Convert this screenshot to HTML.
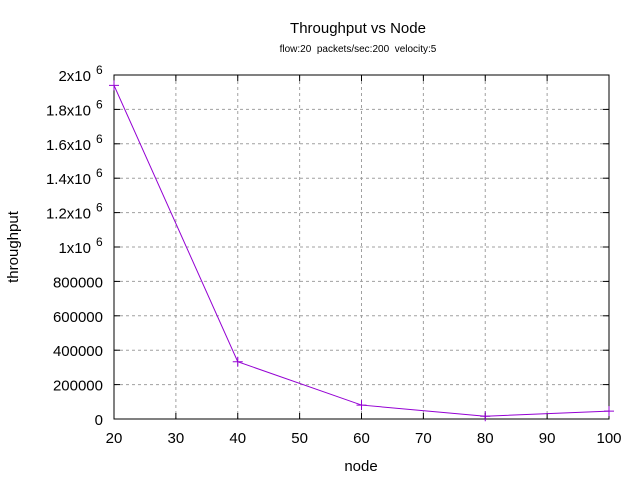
<!DOCTYPE html>
<html><head><meta charset="utf-8"><style>
body{margin:0;background:#fff;}
svg{display:block;font-family:"Liberation Sans",sans-serif;}
</style></head><body>
<svg id="chart" width="640" height="480">
<text x="358" y="33" font-size="15" text-anchor="middle">Throughput vs Node</text>
<text x="358" y="52" font-size="10" text-anchor="middle" style="white-space:pre">flow:20  packets/sec:200  velocity:5</text>
<text x="361" y="471" font-size="15" text-anchor="middle">node</text>
<text transform="translate(18,247) rotate(-90)" font-size="15" text-anchor="middle">throughput</text>
<g id="grid"></g><g id="axes"></g><g id="series"></g>
</svg>
<script>
const categories=[20,40,60,80,100];
const throughput=[1940000,333000,81000,16000,46000];
const xTicks=[20,30,40,50,60,70,80,90,100];
const yTicks=[0,200000,400000,600000,800000,1000000,1200000,1400000,1600000,1800000,2000000];
const yTickLabels=["0","200000","400000","600000","800000","1x10","1.2x10","1.4x10","1.6x10","1.8x10","2x10"];
const L=114,R=609,T=75,B=419;
const xs=v=>L+(v-20)/80*(R-L);
const ys=v=>B-v/2000000*(B-T);
const NS="http://www.w3.org/2000/svg";
function mk(tag,attrs,parent){const e=document.createElementNS(NS,tag);for(const k in attrs)e.setAttribute(k,attrs[k]);parent.appendChild(e);return e;}
const grid=document.getElementById('grid'),axes=document.getElementById('axes'),ser=document.getElementById('series');
xTicks.forEach(v=>{const x=xs(v);
 if(v>20&&v<100){const g=mk('line',{x1:x,x2:x,y1:T,y2:B,stroke:'#a0a0a0','stroke-dasharray':'3,3'},grid);
 
 }
 mk('line',{x1:x,x2:x,y1:B,y2:B-6,stroke:'#000'},axes);
 mk('line',{x1:x,x2:x,y1:T,y2:T+6,stroke:'#000'},axes);
 const t=mk('text',{x:x,y:B+24,'font-size':15,'text-anchor':'middle'},axes);t.textContent=v;
 
 
});
yTicks.forEach((v,i)=>{const y=ys(v);
 if(v>0&&v<2000000){const g=mk('line',{x1:L,x2:R,y1:y,y2:y,stroke:'#a0a0a0','stroke-dasharray':'3,3'},grid);
 
 }
 mk('line',{x1:L,x2:L+6,y1:y,y2:y,stroke:'#000'},axes);
 mk('line',{x1:R,x2:R-6,y1:y,y2:y,stroke:'#000'},axes);
 const big=v>=1000000;
 const t=mk('text',{x:big?91:103,y:y+6,'font-size':15,'text-anchor':'end'},axes);t.textContent=yTickLabels[i];
 
 
 if(big){const s=mk('text',{x:96,y:y-1,'font-size':12},axes);s.textContent='6';
 
 }
});
const fr=mk('rect',{x:L,y:T,width:R-L,height:B-T,fill:'none',stroke:'#000'},axes);


const pts=categories.map((c,i)=>xs(c)+','+ys(throughput[i])).join(' ');
const pl=mk('polyline',{points:pts,fill:'none',stroke:'#9400d3','stroke-width':1},ser);


categories.forEach((c,i)=>{const x=xs(c),y=ys(throughput[i]);
 const p=mk('path',{d:`M${x-5},${y}H${x+5}M${x},${y-5}V${y+5}`,stroke:'#9400d3'},ser);
 
 
});
</script>
</body></html>
